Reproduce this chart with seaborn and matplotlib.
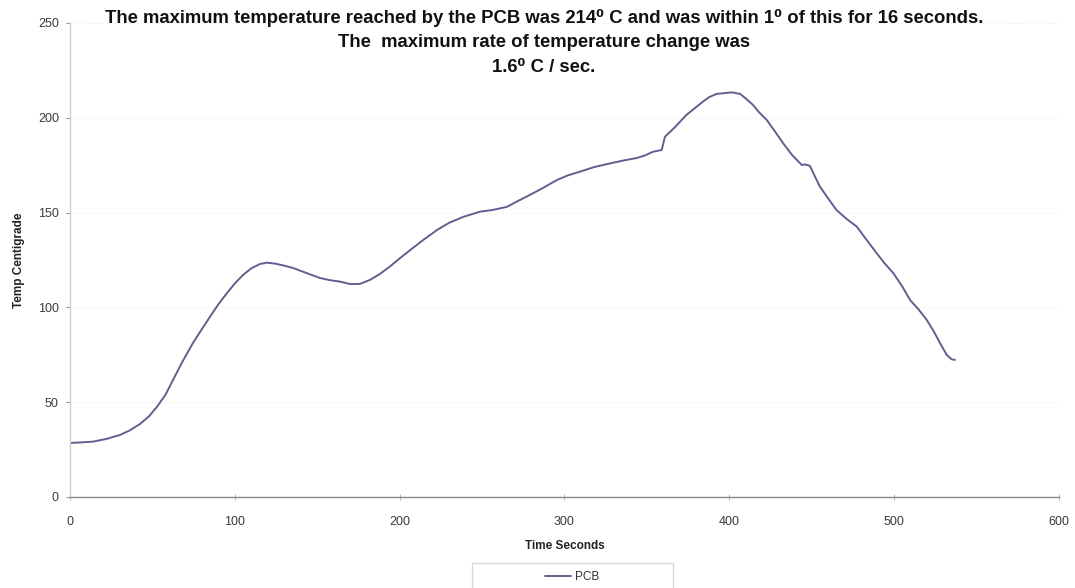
import matplotlib
matplotlib.use("Agg")
import matplotlib.pyplot as plt
from matplotlib.patches import Rectangle
import seaborn as sns
import pandas as pd

time_s = [0.6, 7, 14, 22, 30.3, 36, 42.5, 48, 52.8, 58, 62.5, 68, 74.6, 80, 85, 90, 95.3, 100, 105,
          110, 115.3, 119.5, 125, 130, 135.3, 142, 151.7, 158, 163.8, 170, 176, 182, 188, 194,
          201, 208, 215, 222.7, 230, 238.5, 244, 248.8, 256, 265, 272, 279, 287, 295.5, 302,
          309.5, 318, 324, 329.5, 336, 344, 349, 353.8, 359, 361, 367, 374, 379, 384, 388,
          392.4, 397, 401.5, 406.6, 410, 414.4, 418, 422.8, 428, 432.6, 438, 444, 446, 449,
          452, 455, 460, 465, 471, 477.4, 483, 489.5, 494, 499.6, 505, 509.7, 515, 519.8,
          524, 528, 532, 535, 537]
temp_c = [28.5, 28.8, 29.2, 30.6, 32.7, 35.0, 38.5, 42.6, 47.6, 54.0, 61.7, 71.0, 81.2, 88.5, 95.1,
          101.6, 107.6, 112.6, 117.1, 120.6, 122.9, 123.6, 123.0, 122.0, 120.8, 118.6, 115.5, 114.3,
          113.6, 112.3, 112.4, 114.5, 117.6, 121.5, 126.5, 131.3, 136.0, 140.8, 144.6, 147.7, 149.2,
          150.5, 151.3, 153.0, 156.2, 159.3, 163.0, 167.2, 169.6, 171.6, 174.0, 175.2, 176.3, 177.5,
          178.8, 180.2, 182.1, 183.0, 190.0, 195.0, 201.5, 205.0, 208.5, 211.0, 212.6, 213.0, 213.4,
          212.6, 210.2, 206.8, 203.0, 198.8, 192.5, 186.7, 180.5, 175.1, 175.4, 174.6, 169.0, 163.7,
          157.5, 151.4, 146.8, 142.6, 136.0, 128.5, 123.5, 118.0, 111.0, 103.9, 98.8, 93.4, 87.5,
          81.0, 74.9, 72.6, 72.3]
series_name = "PCB"

x_ticks = [0, 100, 200, 300, 400, 500, 600]
y_ticks = [0, 50, 100, 150, 200, 250]
title_text = ("The maximum temperature reached by the PCB was 214\u2070 C and was within 1\u2070 of this for 16 seconds.\n"
              "The  maximum rate of temperature change was\n"
              "1.6\u2070 C / sec.")
x_label = "Time Seconds"
y_label = "Temp Centigrade"

df = pd.DataFrame({"Time": time_s, "Temp": temp_c, "Series": series_name})

sns.set_theme(style="white")
plt.rcParams["font.family"] = ["Liberation Sans", "DejaVu Sans"]

fig = plt.figure(figsize=(10.75, 5.88), dpi=100)
ax = fig.add_axes([0.0651, 0.1548, 0.9199, 0.8061])

sns.lineplot(data=df, x="Time", y="Temp", hue="Series", palette=["#6a5a90"],
             linewidth=1.4, ax=ax, legend=True)

ax.set_xlim(0, 600)
ax.set_ylim(0, 250)
ax.set_xticks(x_ticks)
ax.set_yticks(y_ticks)
ax.grid(axis="y", color="#f2f2f2", linestyle=(0, (2, 2)), linewidth=0.8)
ax.set_axisbelow(True)

for s in ["top", "right"]:
    ax.spines[s].set_visible(False)
ax.spines["left"].set_color("#cfcfcf")
ax.spines["left"].set_linewidth(1.0)
ax.spines["bottom"].set_color("#8a8a8a")
ax.spines["bottom"].set_linewidth(1.0)

ax.tick_params(axis="y", which="both", direction="out", length=3, width=0.8, color="#999999",
               labelsize=9, labelcolor="#3a3a3a", pad=5, left=True)
ax.tick_params(axis="x", which="both", direction="inout", length=5, width=0.8, color="#bbbbbb",
               labelsize=9, labelcolor="#3a3a3a", pad=11, bottom=True)

ax.set_xlabel(x_label, fontsize=8.5, fontweight="bold", color="#222222", labelpad=9)
ax.set_ylabel(y_label, fontsize=8.5, fontweight="bold", color="#222222", labelpad=9)

fig.text(0.506, 0.985, title_text, ha="center", va="top", fontsize=13.3, fontweight="bold",
         color="#111111", linespacing=1.58)

handles, _ = ax.get_legend_handles_labels()
ax.legend_.remove()
leg = fig.legend(handles=handles, labels=[series_name], loc="center", bbox_to_anchor=(0.532, 0.018),
                 frameon=False, fontsize=8.5, handlelength=2.2, handletextpad=0.3)
for t in leg.get_texts():
    t.set_color("#333333")

fig.patches.append(Rectangle((472 / 1075, -0.05), (673 - 472) / 1075, 0.05 + (588 - 563) / 588,
                             transform=fig.transFigure, fill=False, edgecolor="#d6d6d6",
                             linewidth=0.9, figure=fig))

fig.savefig("out.png", dpi=100, facecolor="white")
